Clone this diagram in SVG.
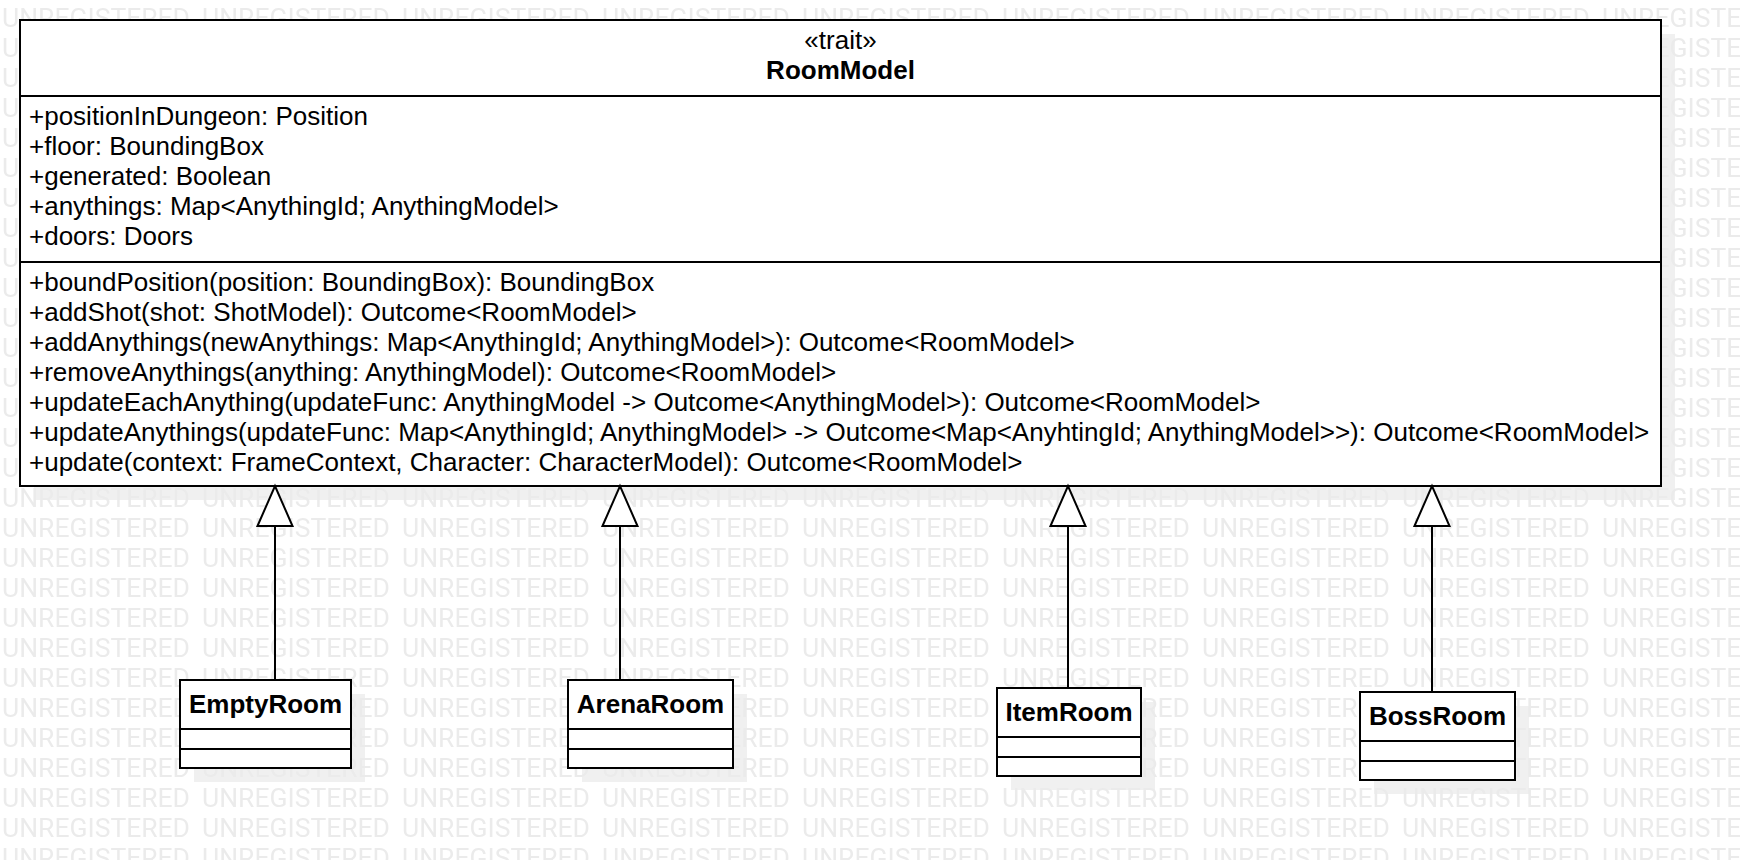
<svg xmlns="http://www.w3.org/2000/svg" width="1740" height="860" viewBox="0 0 1740 860">
<defs>
<style>
.box{fill:#ffffff;stroke:#000000;stroke-width:2}
.div{stroke:#000000;stroke-width:2}
.shadow{fill:#f0f0f0}
.t{font-family:"Liberation Sans",Arial,sans-serif;font-size:26px;fill:#000000}
.b{font-weight:bold}
.c{text-anchor:middle}
.edge{stroke:#000000;stroke-width:2;fill:none;marker-end:url(#gen)}
.wm{font-family:Roboto,"Liberation Sans",sans-serif;font-size:26.7px;fill:#ebebeb}
</style>
<marker id="gen" markerUnits="userSpaceOnUse" markerWidth="46" markerHeight="41" viewBox="-3 -3 46 41" refX="39" refY="17.5" orient="auto">
<path d="M0,0 L40,17.5 L0,35 Z" fill="#ffffff" stroke="#000000" stroke-width="2"/>
</marker>
<pattern id="wmp" patternUnits="userSpaceOnUse" x="0" y="0" width="200" height="30">
<text class="wm" x="2" y="27" textLength="188" lengthAdjust="spacingAndGlyphs">UNREGISTERED</text>
</pattern>
</defs>
<rect x="0" y="0" width="1740" height="860" fill="#ffffff"/>
<g id="shadows">
<rect class="shadow" x="34" y="34" width="1641" height="466"/>
<rect class="shadow" x="194" y="694" width="171" height="88"/>
<rect class="shadow" x="582" y="694" width="165" height="88"/>
<rect class="shadow" x="1011" y="702" width="144" height="88"/>
<rect class="shadow" x="1374" y="706" width="155" height="88"/>
</g>
<rect id="watermark" x="0" y="0" width="1740" height="860" fill="url(#wmp)"/>
<g id="RoomModel">
<rect class="box" x="20" y="20" width="1641" height="466"/>
<line class="div" x1="20" y1="96" x2="1661" y2="96"/>
<line class="div" x1="20" y1="262" x2="1661" y2="262"/>
<text class="t c" x="840.5" y="49">«trait»</text>
<text class="t b c" x="840.5" y="79">RoomModel</text>
<text class="t" x="29" y="125">+positionInDungeon: Position</text>
<text class="t" x="29" y="155">+floor: BoundingBox</text>
<text class="t" x="29" y="185">+generated: Boolean</text>
<text class="t" x="29" y="215">+anythings: Map&lt;AnythingId; AnythingModel&gt;</text>
<text class="t" x="29" y="245">+doors: Doors</text>
<text class="t" x="29" y="291">+boundPosition(position: BoundingBox): BoundingBox</text>
<text class="t" x="29" y="321">+addShot(shot: ShotModel): Outcome&lt;RoomModel&gt;</text>
<text class="t" x="29" y="351">+addAnythings(newAnythings: Map&lt;AnythingId; AnythingModel&gt;): Outcome&lt;RoomModel&gt;</text>
<text class="t" x="29" y="381">+removeAnythings(anything: AnythingModel): Outcome&lt;RoomModel&gt;</text>
<text class="t" x="29" y="411">+updateEachAnything(updateFunc: AnythingModel -&gt; Outcome&lt;AnythingModel&gt;): Outcome&lt;RoomModel&gt;</text>
<text class="t" x="29" y="441">+updateAnythings(updateFunc: Map&lt;AnythingId; AnythingModel&gt; -&gt; Outcome&lt;Map&lt;AnyhtingId; AnythingModel&gt;&gt;): Outcome&lt;RoomModel&gt;</text>
<text class="t" x="29" y="471">+update(context: FrameContext, Character: CharacterModel): Outcome&lt;RoomModel&gt;</text>
</g>
<g id="EmptyRoom">
<rect class="box" x="180" y="680" width="171" height="88"/>
<line class="div" x1="180" y1="729" x2="351" y2="729"/>
<line class="div" x1="180" y1="749" x2="351" y2="749"/>
<text class="t b c" x="265.5" y="713">EmptyRoom</text>
</g>
<g id="ArenaRoom">
<rect class="box" x="568" y="680" width="165" height="88"/>
<line class="div" x1="568" y1="729" x2="733" y2="729"/>
<line class="div" x1="568" y1="749" x2="733" y2="749"/>
<text class="t b c" x="650.5" y="713">ArenaRoom</text>
</g>
<g id="ItemRoom">
<rect class="box" x="997" y="688" width="144" height="88"/>
<line class="div" x1="997" y1="737" x2="1141" y2="737"/>
<line class="div" x1="997" y1="757" x2="1141" y2="757"/>
<text class="t b c" x="1069" y="721">ItemRoom</text>
</g>
<g id="BossRoom">
<rect class="box" x="1360" y="692" width="155" height="88"/>
<line class="div" x1="1360" y1="741" x2="1515" y2="741"/>
<line class="div" x1="1360" y1="761" x2="1515" y2="761"/>
<text class="t b c" x="1437.5" y="725">BossRoom</text>
</g>
<g id="connectors">
<line class="edge" x1="275" y1="680" x2="275" y2="487"/>
<line class="edge" x1="620" y1="680" x2="620" y2="487"/>
<line class="edge" x1="1068" y1="688" x2="1068" y2="487"/>
<line class="edge" x1="1432" y1="692" x2="1432" y2="487"/>
</g>
</svg>
